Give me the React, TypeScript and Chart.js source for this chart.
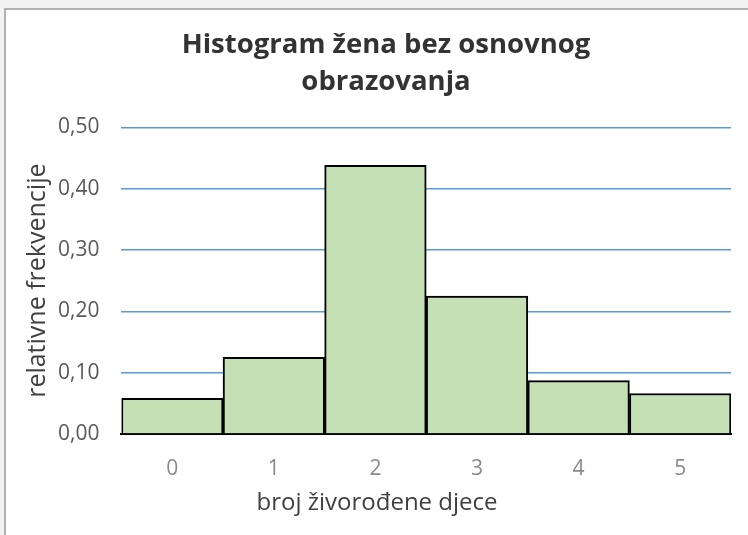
import React, { useEffect, useRef } from "react";
import { Chart, registerables } from "chart.js";

Chart.register(...registerables);

const categories = ["0", "1", "2", "3", "4", "5"];
const relativeFrequencies = [0.058, 0.125, 0.438, 0.225, 0.087, 0.066];
const chartTitle = ["Histogram žena bez osnovnog", "obrazovanja"];
const xTitle = "broj živorođene djece";
const yTitle = "relativne frekvencije";

const FONT = "'Open Sans', 'DejaVu Sans', sans-serif";
const TITLE_FONT_SIZE = 27.5;
const TITLE_LINE = 37;
const X_TITLE_SIZE = 24;

const textPlugin = {
  id: "offsetTexts",
  afterDraw(chart: any) {
    const ctx = chart.ctx;
    ctx.save();
    ctx.textAlign = "center";
    ctx.textBaseline = "middle";
    // chart title, centred on the full (cropped) chart frame
    ctx.fillStyle = "#333333";
    ctx.font = `bold ${TITLE_FONT_SIZE}px ${FONT}`;
    const cx = chart.width / 2 + 12;
    chartTitle.forEach((line, i) => {
      ctx.fillText(line, cx, 45 + i * TITLE_LINE);
    });
    // x axis title
    const xs = chart.scales.x;
    ctx.fillStyle = "#404040";
    ctx.font = `${X_TITLE_SIZE}px ${FONT}`;
    ctx.fillText(xTitle, cx - 9, xs.bottom - (X_TITLE_SIZE * 1.2) / 2);
    ctx.restore();
  },
};

export default function App() {
  const ref = useRef<HTMLCanvasElement | null>(null);

  useEffect(() => {
    document.body.style.margin = "0";
    const canvas = ref.current;
    if (!canvas) return;
    const chart = new Chart(canvas, {
      type: "bar",
      data: {
        labels: categories,
        datasets: [
          {
            data: relativeFrequencies,
            backgroundColor: "#c5e0b4",
            borderColor: "#000000",
            borderWidth: 2,
            barPercentage: 1,
            categoryPercentage: 1,
          },
        ],
      },
      plugins: [textPlugin],
      options: {
        responsive: false,
        animation: false,
        layout: { padding: { left: 23, right: 17, top: 0, bottom: 17 } },
        plugins: {
          legend: { display: false },
          tooltip: { enabled: false },
          title: {
            display: true,
            text: chartTitle,
            color: "rgba(0,0,0,0)",
            font: { family: FONT, size: TITLE_FONT_SIZE, weight: "bold", lineHeight: 1.37 },
            padding: { top: 26, bottom: 26 },
          },
        },
        scales: {
          x: {
            grid: { display: false, drawTicks: false },
            border: { display: true, color: "#000000", width: 2 },
            ticks: {
              color: "#898989",
              font: { family: FONT, size: 21 },
              padding: 22,
            },
            title: {
              display: true,
              text: xTitle,
              color: "rgba(0,0,0,0)",
              font: { family: FONT, size: X_TITLE_SIZE },
              padding: { top: -14, bottom: 0 },
            },
          },
          y: {
            min: 0,
            max: 0.5,
            grid: { color: "#5b9bd5", lineWidth: 1.5, drawTicks: false },
            border: { display: false },
            ticks: {
              stepSize: 0.1,
              color: "#595959",
              font: { family: FONT, size: 21 },
              padding: 22,
              callback: (v: any) => Number(v).toFixed(2).replace(".", ","),
            },
            title: {
              display: true,
              text: yTitle,
              color: "#404040",
              font: { family: FONT, size: 25 },
              padding: { top: 0, bottom: -17 },
            },
          },
        },
      },
    });
    return () => chart.destroy();
  }, []);

  return (
    <div style={{ position: "fixed", left: 0, top: 0, width: 748, height: 535, background: "#f2f2f2", overflow: "hidden" }}>
      <div
        style={{
          position: "absolute",
          left: 4,
          top: 8,
          width: 800,
          height: 600,
          background: "#ffffff",
          border: "2px solid #b0b0b0",
        }}
      />
      <canvas ref={ref} width={748} height={535} style={{ position: "absolute", left: 0, top: 0 }} />
    </div>
  );
}
